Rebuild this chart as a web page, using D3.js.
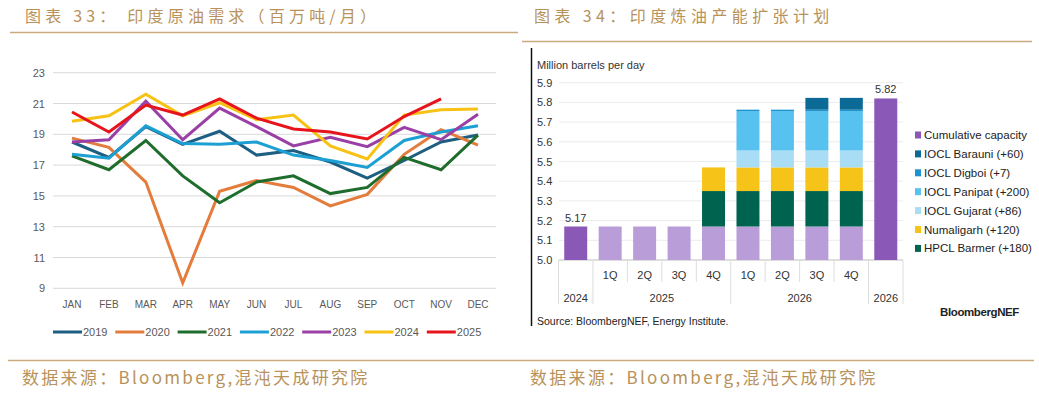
<!DOCTYPE html>
<html>
<head>
<meta charset="utf-8">
<script src="https://cdn.jsdelivr.net/npm/d3@7"></script>
<style>
  body { margin: 0; background: #fff; }
  svg { display: block; font-family: "Liberation Sans", Arial, sans-serif; }
  .cn { font-family: "Noto Sans CJK SC", sans-serif; fill: #b8925a; }
</style>
</head>
<body>
<svg id="chart" width="1039" height="393"></svg>
<script>
// Data - left: India crude demand (mt/month)

var months = ["JAN","FEB","MAR","APR","MAY","JUN","JUL","AUG","SEP","OCT","NOV","DEC"];
var yTicks = [9, 11, 13, 15, 17, 19, 21, 23];
var years = ["2019","2020","2021","2022","2023","2024","2025"];
var yearColors = ["#1d5f82","#e47c3c","#1f6d2c","#1c9fd3","#9a3fa6","#f7c214","#e8141c"];

var d2019 = [18.5, 17.5, 19.5, 18.35, 19.2, 17.65, 17.95, 17.2, 16.15, 17.3, 18.5, 18.95];
var d2020 = [18.75, 18.15, 15.9, 9.35, 15.3, 16.0, 15.55, 14.35, 15.1, 17.7, 19.3, 18.3];
var d2021 = [17.6, 16.7, 18.6, 16.3, 14.55, 15.9, 16.3, 15.15, 15.55, 17.5, 16.7, 18.95];
var d2022 = [17.7, 17.45, 19.55, 18.4, 18.35, 18.5, 17.65, 17.3, 16.85, 18.6, 19.15, 19.55];
var d2023 = [18.5, 18.65, 21.15, 18.65, 20.7, 19.5, 18.25, 18.8, 18.2, 19.45, 18.65, 20.3];
var d2024 = [19.85, 20.2, 21.6, 20.2, 21.05, 19.95, 20.25, 18.25, 17.4, 20.25, 20.6, 20.65];
var d2025 = [20.45, 19.15, 20.9, 20.25, 21.3, 20.05, 19.35, 19.15, 18.7, 20.15, 21.3];

// Data - right: India refining capacity expansion (million barrels per day)

var periods = ["2024","2025 1Q","2025 2Q","2025 3Q","2025 4Q","2026 1Q","2026 2Q","2026 3Q","2026 4Q","2026"];
var quarterLabels = ["","1Q","2Q","3Q","4Q","1Q","2Q","3Q","4Q",""];
var yearGroups = [["2024",0,0],["2025",1,4],["2026",5,8],["2026",9,9]];
var capTicks = [5.0, 5.1, 5.2, 5.3, 5.4, 5.5, 5.6, 5.7, 5.8, 5.9];

var cumulative  = [5.17, 0, 0, 0, 0, 0, 0, 0, 0, 5.82];
var existing    = [0, 5.17, 5.17, 5.17, 5.17, 5.17, 5.17, 5.17, 5.17, 0];
var hpclBarmer  = [0, 0, 0, 0, 0.18, 0.18, 0.18, 0.18, 0.18, 0];
var numaligarh  = [0, 0, 0, 0, 0.12, 0.12, 0.12, 0.12, 0.12, 0];
var ioclGujarat = [0, 0, 0, 0, 0, 0.086, 0.086, 0.086, 0.086, 0];
var ioclPanipat = [0, 0, 0, 0, 0, 0.2, 0.2, 0.2, 0.2, 0];
var ioclDigboi  = [0, 0, 0, 0, 0, 0.007, 0.007, 0.007, 0.007, 0];
var ioclBarauni = [0, 0, 0, 0, 0, 0, 0, 0.06, 0.06, 0];

var stackKeys = ["cumulative","existing","hpclBarmer","numaligarh","ioclGujarat","ioclPanipat","ioclDigboi","ioclBarauni"];
var stackColors = {cumulative:"#8a58b6", existing:"#b89dd8", hpclBarmer:"#00634f", numaligarh:"#f6c419",
  ioclGujarat:"#a9ddf6", ioclPanipat:"#57c1ef", ioclDigboi:"#1b93cf", ioclBarauni:"#0b6a96"};
var legendItems = [["Cumulative capacity","cumulative"],["IOCL Barauni (+60)","ioclBarauni"],["IOCL Digboi (+7)","ioclDigboi"],
  ["IOCL Panipat (+200)","ioclPanipat"],["IOCL Gujarat (+86)","ioclGujarat"],["Numaligarh (+120)","numaligarh"],["HPCL Barmer (+180)","hpclBarmer"]];

var svg = d3.select("#chart");

// Titles and footers

svg.append("text").attr("class","cn").attr("x",25).attr("y",22)
  .style("font-size","16px").style("letter-spacing","4.2px")
  .text("图表 33： 印度原油需求（百万吨/月）");
svg.append("text").attr("class","cn").attr("x",534).attr("y",22)
  .style("font-size","16px").style("letter-spacing","4.4px")
  .text("图表 34：印度炼油产能扩张计划");
svg.append("line").attr("x1",10).attr("x2",518).attr("y1",32.5).attr("y2",32.5)
  .attr("stroke","#c9aa7c").attr("stroke-width",1.5);
svg.append("line").attr("x1",522).attr("x2",1032).attr("y1",41.5).attr("y2",41.5)
  .attr("stroke","#c9aa7c").attr("stroke-width",1.5);
svg.append("line").attr("x1",8).attr("x2",1034).attr("y1",360.5).attr("y2",360.5)
  .attr("stroke","#c9aa7c").attr("stroke-width",1.5);
[22, 530].forEach(function(x) {
  svg.append("text").attr("class","cn").attr("x",x).attr("y",384)
    .style("font-size","17px").style("letter-spacing","2.3px")
    .text("数据来源：Bloomberg,混沌天成研究院");
});

// Left chart

var x1 = d3.scalePoint().domain(months).range([72, 478]);
var y1 = d3.scaleLinear().domain([9, 23]).range([288.3, 72.7]);

var left = svg.append("g");
left.selectAll(".grid").data(yTicks).join("line")
  .attr("x1",53).attr("x2",496)
  .attr("y1",function(d){return y1(d)}).attr("y2",function(d){return y1(d)})
  .attr("stroke","#d9d9d9").attr("stroke-width",1);
left.selectAll(".ylab").data(yTicks).join("text")
  .attr("x",45).attr("y",function(d){return y1(d)+4})
  .attr("text-anchor","end").attr("fill","#595959").style("font-size","11px")
  .text(function(d){return d});
left.selectAll(".xlab").data(months).join("text")
  .attr("x",function(d){return x1(d)}).attr("y",308)
  .attr("text-anchor","middle").attr("fill","#595959").style("font-size","10px")
  .text(function(d){return d});

var series = [d2019, d2020, d2021, d2022, d2023, d2024, d2025];
var line = d3.line()
  .x(function(d,i){return x1(months[i])})
  .y(function(d){return y1(d)});

series.forEach(function(s, i) {
  left.append("path").datum(s)
    .attr("d", line).attr("fill","none")
    .attr("stroke", yearColors[i]).attr("stroke-width",3)
    .attr("stroke-linejoin","miter");
});

var leg = left.selectAll(".leg").data(years).join("g")
  .attr("transform",function(d,i){return "translate(" + (53 + i*62.3) + ",332)"});
leg.append("line").attr("x1",0).attr("x2",29).attr("y1",0).attr("y2",0)
  .attr("stroke",function(d,i){return yearColors[i]}).attr("stroke-width",3);
leg.append("text").attr("x",30).attr("y",4).attr("fill","#595959").style("font-size","11px")
  .text(function(d){return d});

// Right chart

var right = svg.append("g");
right.append("line").attr("x1",531.5).attr("x2",531.5).attr("y1",48).attr("y2",326)
  .attr("stroke","#111").attr("stroke-width",1.5);

var x2 = d3.scaleBand().domain(periods).range([558.5, 903]).paddingInner(0.333).paddingOuter(0.1665);
var y2 = d3.scaleLinear().domain([5.0, 5.9]).range([260, 82.7]).clamp(true);

right.append("text").attr("x",537).attr("y",69).attr("fill","#333")
  .style("font-size","11px").style("font-family","'Liberation Sans Narrow', 'Liberation Sans', sans-serif")
  .text("Million barrels per day");

right.selectAll(".grid").data(capTicks).join("line")
  .attr("x1",559).attr("x2",903)
  .attr("y1",function(d){return y2(d)}).attr("y2",function(d){return y2(d)})
  .attr("stroke",function(d){return d === 5.0 ? "#bdbdbd" : "#ececec"}).attr("stroke-width",1);
right.selectAll(".ylab").data(capTicks).join("text")
  .attr("x",537).attr("y",function(d){return y2(d)+4})
  .attr("fill","#333").style("font-size","11px")
  .text(function(d){return d.toFixed(1)});

var rows = periods.map(function(p, i) {
  return {period: p, cumulative: cumulative[i], existing: existing[i], hpclBarmer: hpclBarmer[i],
    numaligarh: numaligarh[i], ioclGujarat: ioclGujarat[i], ioclPanipat: ioclPanipat[i],
    ioclDigboi: ioclDigboi[i], ioclBarauni: ioclBarauni[i]};
});
var stacked = d3.stack().keys(stackKeys)(rows);

right.selectAll(".layer").data(stacked).join("g")
  .attr("fill",function(d){return stackColors[d.key]})
  .selectAll("rect").data(function(d){return d}).join("rect")
  .attr("x",function(d){return x2(d.data.period)})
  .attr("width",x2.bandwidth())
  .attr("y",function(d){return y2(d[1])})
  .attr("height",function(d){return y2(d[0]) - y2(d[1])});

// value labels on the cumulative bars
[0, 9].forEach(function(i) {
  right.append("text")
    .attr("x",x2(periods[i]) + x2.bandwidth()/2).attr("y",y2(cumulative[i]) - 5)
    .attr("text-anchor","middle").attr("fill","#333").style("font-size","11px")
    .text(cumulative[i].toFixed(2));
});

// category axis: separators, quarter and year labels
var step = x2.step();
var fullBreaks = [0, 1, 5, 9, 10];
d3.range(0, periods.length + 1).forEach(function(i) {
  var bx = (i < periods.length ? x2(periods[i]) : x2(periods[i-1]) + step) - step*0.333/2;
  var full = fullBreaks.indexOf(i) >= 0;
  right.append("line").attr("x1",bx).attr("x2",bx).attr("y1",260).attr("y2",full ? 304 : 282)
    .attr("stroke","#dedede").attr("stroke-width",1);
});
right.selectAll(".qlab").data(periods).join("text")
  .attr("x",function(d){return x2(d) + x2.bandwidth()/2}).attr("y",279)
  .attr("text-anchor","middle").attr("fill","#333").style("font-size","11px")
  .text(function(d,i){return quarterLabels[i]});
right.selectAll(".ylab2").data(yearGroups).join("text")
  .attr("x",function(d){return (x2(periods[d[1]]) + x2(periods[d[2]]) + x2.bandwidth())/2})
  .attr("y",302).attr("text-anchor","middle").attr("fill","#333").style("font-size","11px")
  .text(function(d){return d[0]});

var leg2 = right.selectAll(".leg2").data(legendItems).join("g")
  .attr("transform",function(d,i){return "translate(915," + (135 + i*18.9) + ")"});
leg2.append("rect").attr("x",0).attr("y",-3.5).attr("width",6).attr("height",7)
  .attr("fill",function(d){return stackColors[d[1]]});
leg2.append("text").attr("x",9).attr("y",4).attr("fill","#222")
  .style("font-size","11.5px").style("font-family","'Liberation Sans Narrow', 'Liberation Sans', sans-serif")
  .text(function(d){return d[0]});

right.append("text").attr("x",1019).attr("y",316).attr("text-anchor","end").attr("fill","#222")
  .style("font-size","11.5px").style("font-weight","bold").style("letter-spacing","-0.4px")
  .text("BloombergNEF");
right.append("text").attr("x",537).attr("y",325).attr("fill","#222")
  .style("font-size","10.5px").style("font-family","'Liberation Sans Narrow', 'Liberation Sans', sans-serif")
  .text("Source: BloombergNEF, Energy Institute.");
</script>
</body>
</html>
